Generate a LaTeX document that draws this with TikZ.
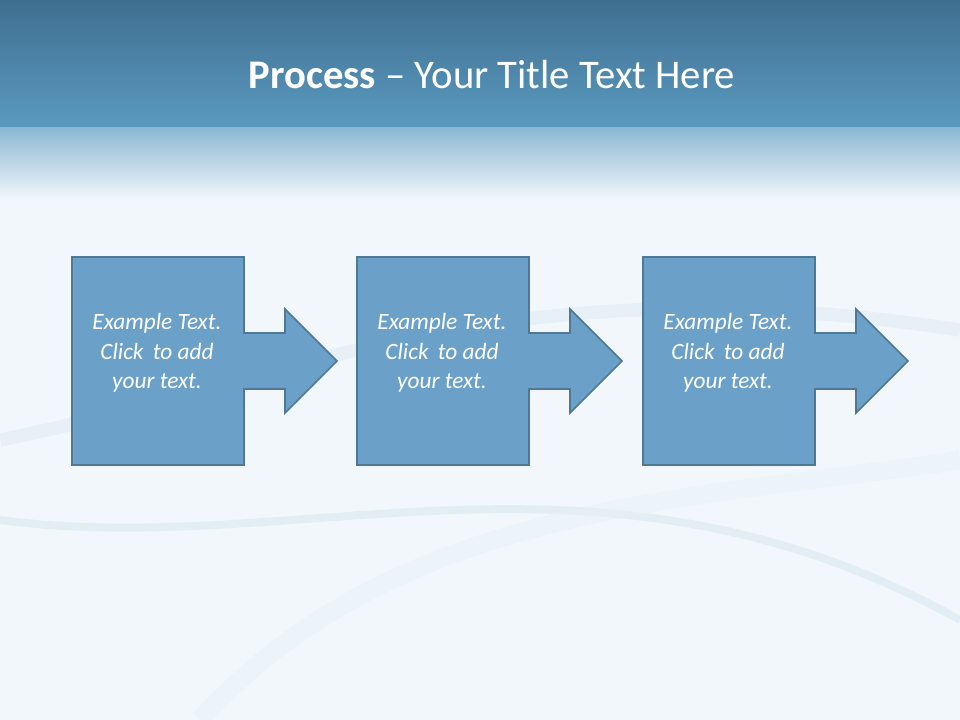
\documentclass[tikz,border=0pt]{standalone}
\usepackage{fontspec}
\setmainfont{Carlito}
\begin{document}
\begin{tikzpicture}[x=0.75pt,y=-0.75pt,
  stepshape/.style={fill=boxfill,draw=boxline,line width=1.2pt,line join=miter},
  steptext/.style={text=white,font=\itshape\fontsize{17.5}{22}\selectfont,align=center}]
\definecolor{boxfill}{HTML}{6BA1C8}
\definecolor{boxline}{HTML}{4E7896}
\definecolor{topA}{HTML}{3F6F90}
\definecolor{topB}{HTML}{5A9AC0}
\definecolor{bgc}{HTML}{F2F7FB}
\useasboundingbox (0,0) rectangle (960,720);
\fill[bgc] (0,0) rectangle (960,720);
\shade[top color=topA,bottom color=topB] (0,0) rectangle (960,128);
\shade[top color=topB!70!white,bottom color=bgc] (0,128) rectangle (960,200);
% faint swooshes
\draw[white!80!topB,line width=10pt,opacity=0.5] (0,440) .. controls (300,380) and (500,260) .. (960,330);
\draw[white!75!topB,line width=6pt,opacity=0.5] (0,520) .. controls (300,560) and (600,420) .. (960,620);
\draw[white!85!topB,line width=14pt,opacity=0.4] (200,720) .. controls (400,500) and (700,500) .. (960,460);
\node[text=white,font=\fontsize{30.5}{34}\selectfont] (title) at (492,75) {\textbf{Process} -- Your Title Text Here};
\foreach \i/\x in {1/0,2/285,3/571}{
  \draw[stepshape] (72+\x,257) -- (244+\x,257) -- (244+\x,333) -- (285+\x,333) -- (285+\x,309) -- (337+\x,361) -- (285+\x,413) -- (285+\x,389) -- (244+\x,389) -- (244+\x,465) -- (72+\x,465) -- cycle;
  \node[steptext] (t\i) at (157+\x,353) {Example Text.\\Click\, to add\\your text.};
}
\end{tikzpicture}
\end{document}
